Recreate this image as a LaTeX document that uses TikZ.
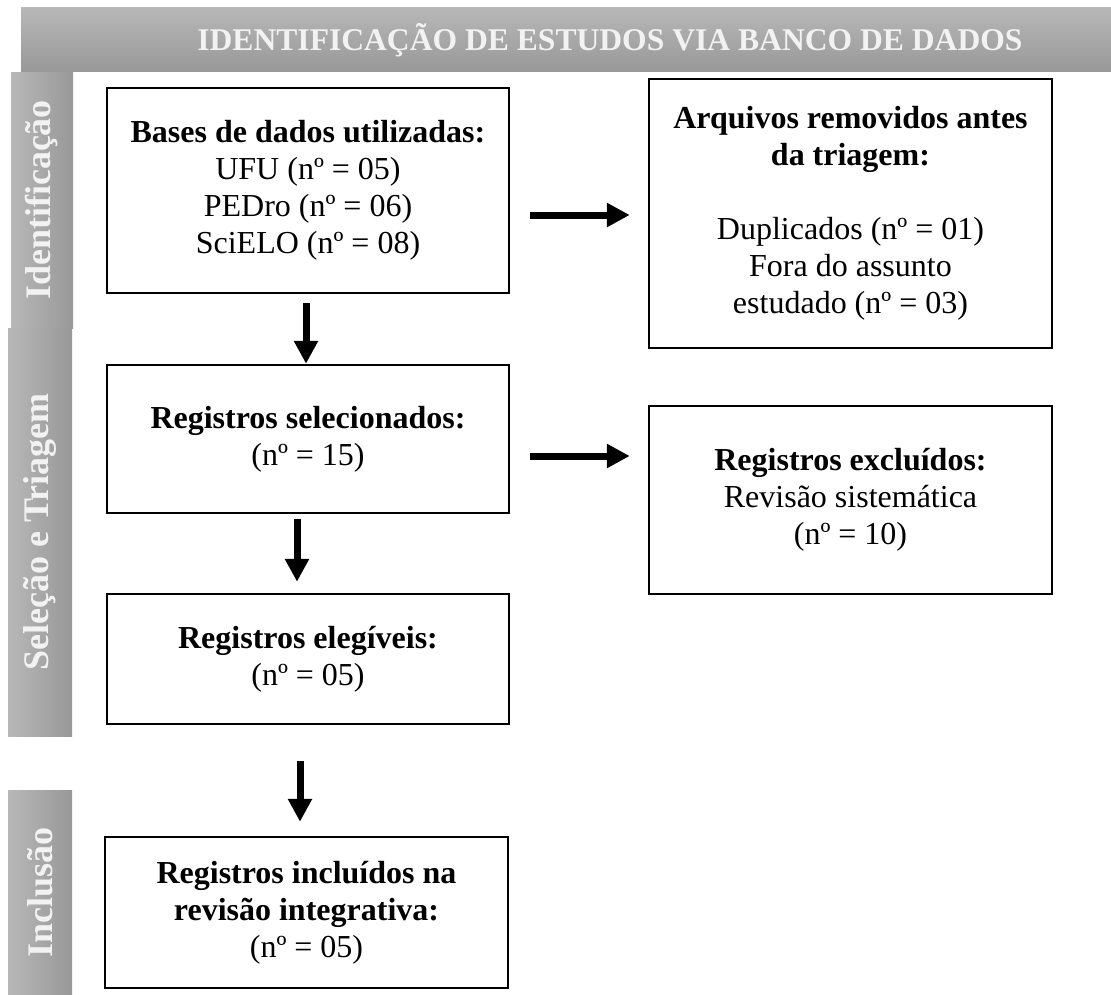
\documentclass[tikz,border=0pt]{standalone}
\usepackage{fontspec}
\setmainfont{Liberation Serif}
\usepackage{xcolor}
\usepackage{tikz}
\usetikzlibrary{shapes,arrows,arrows.meta,positioning}

\definecolor{cinzaclaro}{RGB}{184,184,184}
\definecolor{cinzaescuro}{RGB}{152,152,152}
\definecolor{cinzatexto}{RGB}{242,242,242}

\tikzset{
    caixa/.style={
        draw,
        line width=2.5pt,
        inner sep=0pt,
        align=center,
        minimum width=402pt,
        font=\fontsize{32}{37}\selectfont
    },
    faixa/.style={
        left color=cinzaclaro,
        right color=cinzaescuro,
        draw=none
    },
    rotulo/.style={
        rotate=90,
        text=cinzatexto,
        font=\fontsize{36}{40}\selectfont\bfseries
    },
    seta/.style={
        line width=7pt,
        -{Triangle[width=23pt,length=23pt]}
    }
}

\begin{document}
\begin{tikzpicture}[x=1pt,y=-1pt]
                \useasboundingbox (0,0) rectangle (1111,994);

                \fill[
                    top color=cinzaclaro,
                    bottom color=cinzaescuro
                ] (21,7) rectangle (1111,71);
                \node[
                    text=cinzatexto,
                    font=\fontsize{31.6}{36}\selectfont\bfseries
                ] (titulo) at (610,40) {IDENTIFICAÇÃO DE ESTUDOS VIA BANCO DE DADOS};

                \fill[faixa] (11,72) rectangle (73,328);
                \fill[faixa] (8,328) rectangle (72,736);
                \fill[faixa] (8,790) rectangle (72,994);
                \node[rotulo] (identificacao) at (42,200) {Identificação};
                \node[rotulo] (selecao) at (40,532) {Seleção e Triagem};
                \node[rotulo] (inclusao) at (40,892) {Inclusão};

                \node[caixa, minimum height=205pt] (bases) at (308,190.5)
                    {\textbf{Bases de dados utilizadas:}\\UFU (nº = 05)\\PEDro (nº = 06)\\SciELO (nº = 08)};
                \node[caixa, minimum height=148pt] (selecionados) at (308,439)
                    {\textbf{Registros selecionados:}\\(nº = 15)};
                \node[caixa, minimum height=130pt] (elegiveis) at (308,659)
                    {\textbf{Registros elegíveis:}\\(nº = 05)};
                \node[caixa, minimum height=151pt, minimum width=403pt] (incluidos) at (306.5,912.5)
                    {\textbf{Registros incluídos na}\\\textbf{revisão integrativa:}\\(nº = 05)};
                \node[caixa, minimum height=269pt, minimum width=403pt] (removidos) at (850.5,213.5)
                    {\textbf{Arquivos removidos antes}\\\textbf{da triagem:}\\[37pt]Duplicados (nº = 01)\\Fora do assunto\\estudado (nº = 03)};
                \node[caixa, minimum height=188pt, minimum width=403pt] (excluidos) at (850.5,500)
                    {\textbf{Registros excluídos:}\\Revisão sistemática\\(nº = 10)};

                \draw[seta, shorten <=9pt] ([xshift=-2pt]bases.south) -- ([xshift=-2pt]selecionados.north);
                \draw[seta, shorten <=5pt, shorten >=11pt] ([xshift=-11pt]selecionados.south) -- ([xshift=-11pt]elegiveis.north);
                \draw[seta, shorten <=36pt, shorten >=14pt] ([xshift=-8pt]elegiveis.south) -- ([xshift=-8pt]elegiveis.south |- incluidos.north);
                \draw[seta, shorten <=20pt, shorten >=18pt] ([yshift=-24.5pt]bases.east) -- ([yshift=-24.5pt]bases.east -| removidos.west);
                \draw[seta, shorten <=20pt, shorten >=18pt] ([yshift=-17pt]selecionados.east) -- ([yshift=-17pt]selecionados.east -| excluidos.west);

            \end{tikzpicture}
\end{document}
